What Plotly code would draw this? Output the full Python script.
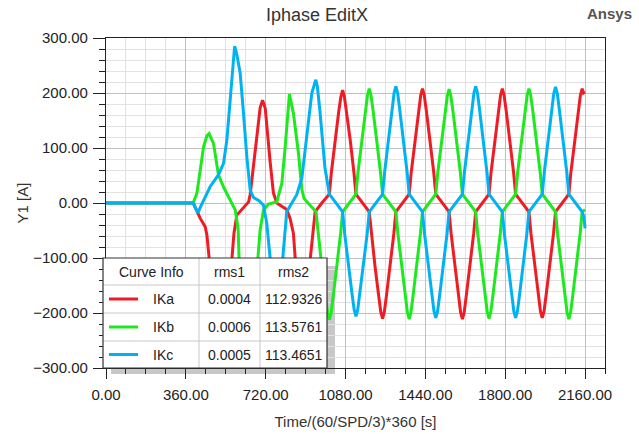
import plotly.graph_objects as go

# (time, current) points, one list per curve
ika_pts = [(0, 0), (393, 0), (402, -8), (415, -20), (425, -28), (447, -43), (455, -58), (465, -100),
           (490, -140), (515, -150), (545, -130), (568, -100), (577, -55), (590, -22), (620, -8), (643, 2),
           (650, 15), (673, 100), (695, 173), (706, 187), (718, 172), (740, 75), (755, 18), (770, 0),
           (800, -8), (815, -12), (830, -28), (845, -55), (853, -100), (870, -170), (885, -200), (900, -170),
           (920, -105), (943, -16), (973, 0),
           (1007, 16), (1016, 55), (1033, 115), (1049, 165), (1059, 193), (1067, 205), (1075, 193), (1085, 165),
           (1101, 115), (1118, 55), (1127, 16),
           (1187, -16), (1196, -55), (1213, -115), (1229, -167), (1239, -198), (1247, -210), (1255, -198),
           (1265, -167), (1281, -115), (1298, -55), (1307, -16),
           (1367, 16), (1376, 55), (1393, 115), (1409, 166), (1419, 196), (1427, 208), (1435, 196), (1445, 166),
           (1461, 115), (1478, 55), (1487, 16),
           (1547, -16), (1556, -55), (1573, -115), (1589, -167), (1599, -199), (1607, -211), (1615, -199),
           (1625, -167), (1641, -115), (1658, -55), (1667, -16),
           (1727, 16), (1736, 55), (1753, 115), (1769, 166), (1779, 196), (1787, 208), (1795, 196), (1805, 166),
           (1821, 115), (1838, 55), (1847, 16),
           (1907, -16), (1916, -55), (1933, -115), (1949, -166), (1959, -197), (1967, -209), (1975, -197),
           (1985, -166), (2001, -115), (2018, -55), (2027, -16),
           (2087, 16), (2096, 55), (2113, 115), (2129, 166), (2139, 196), (2147, 208), (2153, 200), (2160, 202)]

ikb_pts = [(0, 0), (393, 0), (410, 18), (425, 60), (440, 102), (455, 122), (465, 126), (485, 108),
           (507, 51), (530, 29), (560, 5), (583, -13), (590, -31), (596, -49), (600, -100), (620, -170),
           (640, -195), (665, -170), (685, -100), (695, -49), (710, -13), (733, -2), (770, 2), (793, 36),
           (808, 102), (823, 190), (827, 198), (845, 163), (868, 90), (883, 25), (893, 8),
           (947, -16), (956, -55), (973, -115), (989, -168), (999, -200), (1007, -212), (1015, -200),
           (1025, -168), (1041, -115), (1058, -55), (1067, -16),
           (1127, 16), (1136, 55), (1153, 115), (1169, 166), (1179, 196), (1187, 208), (1195, 196), (1205, 166),
           (1221, 115), (1238, 55), (1247, 16),
           (1307, -16), (1316, -55), (1333, -115), (1349, -167), (1359, -199), (1367, -211), (1375, -199),
           (1385, -167), (1401, -115), (1418, -55), (1427, -16),
           (1487, 16), (1496, 55), (1513, 115), (1529, 165), (1539, 195), (1547, 207), (1555, 195), (1565, 165),
           (1581, 115), (1598, 55), (1607, 16),
           (1667, -16), (1676, -55), (1693, -115), (1709, -167), (1719, -198), (1727, -210), (1735, -198),
           (1745, -167), (1761, -115), (1778, -55), (1787, -16),
           (1847, 16), (1856, 55), (1873, 115), (1889, 166), (1899, 196), (1907, 208), (1915, 196), (1925, 166),
           (1941, 115), (1958, 55), (1967, 16),
           (2027, -16), (2036, -55), (2053, -115), (2069, -167), (2079, -199), (2087, -211), (2095, -199),
           (2105, -167), (2121, -115), (2138, -55), (2147, -16), (2160, -12)]

ikc_pts = [(0, 0), (393, 0), (405, -10), (415, -18), (425, -8), (440, 5), (470, 30), (507, 51), (530, 72),
           (545, 115), (560, 193), (572, 260), (580, 285), (590, 270), (605, 236), (620, 163), (635, 84),
           (650, 24), (665, 10), (690, 4), (710, -4), (725, -37), (740, -100), (755, -180), (768, -195),
           (782, -170), (796, -100), (815, -16), (838, 0), (860, 15), (883, 45), (905, 124), (928, 200),
           (946, 224), (953, 212), (964, 170), (973, 124), (987, 65), (1007, 16),
           (1067, -16), (1076, -55), (1093, -115), (1109, -164), (1119, -194), (1127, -206), (1135, -194),
           (1145, -164), (1161, -115), (1178, -55), (1187, -16),
           (1247, 16), (1256, 55), (1273, 115), (1289, 168), (1299, 200), (1307, 212), (1315, 200), (1325, 168),
           (1341, 115), (1358, 55), (1367, 16),
           (1427, -16), (1436, -55), (1453, -115), (1469, -166), (1479, -197), (1487, -209), (1495, -197),
           (1505, -166), (1521, -115), (1538, -55), (1547, -16),
           (1607, 16), (1616, 55), (1633, 115), (1649, 168), (1659, 200), (1667, 212), (1675, 200), (1685, 168),
           (1701, 115), (1718, 55), (1727, 16),
           (1787, -16), (1796, -55), (1813, -115), (1829, -166), (1839, -197), (1847, -209), (1855, -197),
           (1865, -166), (1881, -115), (1898, -55), (1907, -16),
           (1967, 16), (1976, 55), (1993, 115), (2009, 167), (2019, 199), (2027, 211), (2035, 199), (2045, 167),
           (2061, 115), (2078, 55), (2087, 16), (2147, -16), (2155, -25), (2160, -46)]

curve_names = ["IKa", "IKb", "IKc"]
curve_colors = ["#ee1c25", "#1ee81e", "#00b2f2"]
rms1 = ["0.0004", "0.0006", "0.0005"]
rms2 = ["112.9326", "113.5761", "113.4651"]
table_header = ["Curve Info", "rms1", "rms2"]

FONT = "Liberation Sans, Arial, sans-serif"

W, H = 639, 434
# plot area in pixels
L, R, T, B = 106, 605, 38, 368


def px(x, y):
    # pixel -> paper coords
    return (x - L) / (R - L), (B - y) / (B - T)


fig = go.Figure()
for pts, name, col in zip([ika_pts, ikb_pts, ikc_pts], curve_names, curve_colors):
    t, v = zip(*pts)
    fig.add_trace(go.Scatter(x=list(t), y=list(v), mode="lines", name=name, line=dict(color=col, width=3)))

shapes = []
annots = []

# table shadow, under the curves
x0, y0 = px(111, 266)
x1, y1 = px(335, 374)
shapes.append(dict(type="rect", xref="paper", yref="paper", x0=x0, y0=y1, x1=x1, y1=y0,
                   fillcolor="#c8c8c8", line=dict(width=0), layer="below"))

# table body
col_edges = [103, 199, 260, 327]
row_edges = [258, 285, 313, 341, 368]
tx0, ty0 = px(col_edges[0], row_edges[0])
tx1, ty1 = px(col_edges[-1], row_edges[-1])
shapes.append(dict(type="rect", xref="paper", yref="paper", x0=tx0, y0=ty1, x1=tx1, y1=ty0,
                   fillcolor="white", line=dict(width=0), layer="above"))
for cx in col_edges[1:-1]:
    a, b1 = px(cx, row_edges[0])
    _, b2 = px(cx, row_edges[-1])
    shapes.append(dict(type="line", xref="paper", yref="paper", x0=a, x1=a, y0=b1, y1=b2,
                       line=dict(color="#c8c8c8", width=1), layer="above"))
for ry in row_edges[1:-1]:
    a1, b = px(col_edges[0], ry)
    a2, _ = px(col_edges[-1], ry)
    shapes.append(dict(type="line", xref="paper", yref="paper", x0=a1, x1=a2, y0=b, y1=b,
                       line=dict(color="#c8c8c8", width=1), layer="above"))
shapes.append(dict(type="rect", xref="paper", yref="paper", x0=tx0, y0=ty1, x1=tx1, y1=ty0,
                   line=dict(color="#333333", width=1.2), layer="above"))

centers = [(col_edges[i] + col_edges[i + 1]) / 2 for i in range(3)]
for i, h in enumerate(table_header):
    a, b = px(centers[i], (row_edges[0] + row_edges[1]) / 2)
    annots.append(dict(x=a, y=b, text=h))
for r in range(3):
    cy = (row_edges[r + 1] + row_edges[r + 2]) / 2
    a1, b = px(109, cy)
    a2, _ = px(138, cy)
    shapes.append(dict(type="line", xref="paper", yref="paper", x0=a1, x1=a2, y0=b, y1=b,
                       line=dict(color=curve_colors[r], width=3), layer="above"))
    a, _ = px(163, cy)
    annots.append(dict(x=a, y=b, text=curve_names[r]))
    a, _ = px(centers[1], cy)
    annots.append(dict(x=a, y=b, text=rms1[r]))
    a, _ = px(centers[2], cy)
    annots.append(dict(x=a, y=b, text=rms2[r]))

for an in annots:
    an.update(xref="paper", yref="paper", showarrow=False, xanchor="center", yanchor="middle",
              font=dict(family=FONT, size=14, color="#222222"))

a, b = px(609, 14)
annots.append(dict(x=a, y=b, xref="paper", yref="paper", text="<b>Ansys</b>", showarrow=False,
                   xanchor="center", yanchor="middle", font=dict(family=FONT, size=15, color="#555555")))

fig.update_layout(
    width=W, height=H,
    margin=dict(l=L, r=W - R, t=T, b=H - B),
    paper_bgcolor="white", plot_bgcolor="white",
    showlegend=False,
    title=dict(text="Iphase EditX", x=317 / W, xref="container", y=1 - 15 / H,
               yref="container", xanchor="center", yanchor="middle",
               font=dict(family=FONT, size=18, color="#333333")),
    font=dict(family=FONT, size=15, color="#222222"),
    shapes=shapes, annotations=annots,
)

fig.update_xaxes(
    range=[0, 2250], tick0=0, dtick=360, tickformat=".2f", automargin=False,
    ticks="outside", ticklen=10, tickcolor="#222222", ticklabelstandoff=3,
    showline=True, linecolor="#222222", linewidth=1.2, mirror=True,
    showgrid=True, gridcolor="#c0c0c0", gridwidth=1, zeroline=False,
    minor=dict(dtick=90, tick0=0, ticks="outside", ticklen=5, tickcolor="#222222",
               showgrid=True, gridcolor="#e2e2e2", gridwidth=1),
    title=dict(text="Time/(60/SPD/3)*360 [s]", font=dict(family=FONT, size=15, color="#333333"), standoff=14),
    tickfont=dict(family=FONT, size=15, color="#222222"),
)
fig.update_yaxes(
    range=[-300, 300], tick0=-300, dtick=100, tickformat=".2f", automargin=False,
    ticks="outside", ticklen=12, tickcolor="#222222", ticklabelstandoff=2,
    showline=True, linecolor="#222222", linewidth=1.2, mirror=True,
    showgrid=True, gridcolor="#c0c0c0", gridwidth=1, zeroline=False,
    minor=dict(dtick=20, tick0=0, ticks="outside", ticklen=6, tickcolor="#222222",
               showgrid=True, gridcolor="#e2e2e2", gridwidth=1),
    title=dict(text="Y1 [A]", font=dict(family=FONT, size=15, color="#333333"), standoff=1),
    tickfont=dict(family=FONT, size=15, color="#222222"),
)

# drop the browser's default 8px body margin so the figure fills the window
fig.write_html("out.html", config={"displayModeBar": False},
               post_script="document.body.style.margin = '0';")
